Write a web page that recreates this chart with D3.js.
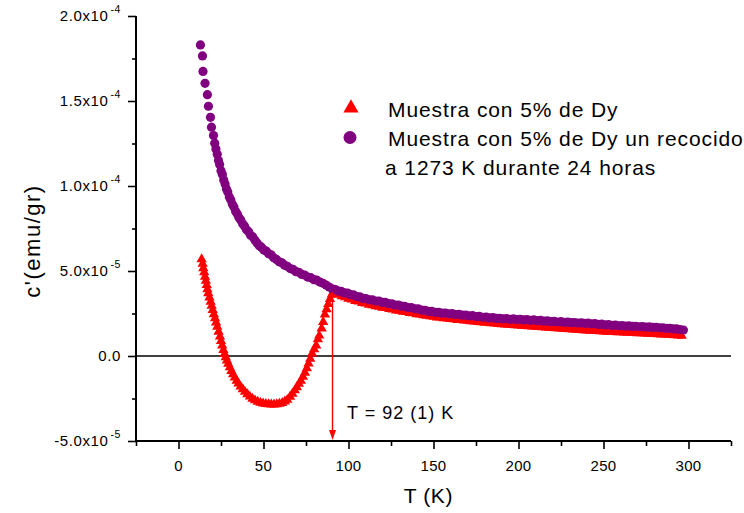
<!DOCTYPE html>
<html><head><meta charset="utf-8">
<script src="https://cdn.jsdelivr.net/npm/d3@7"></script>
<style>
body{margin:0;background:#fff}
text{font-family:"Liberation Sans",Arial,Helvetica,sans-serif;fill:#000}
</style>
</head><body>
<svg id="chart" width="744" height="513"></svg>
<script>
// ---- data (susceptibility values in units of 1e-5 emu/gr) ----
const purpleT = [12.9,14.1,14.4,15.6,17.0,17.6,18.8,19.4,20.6,21.3,22.0,22.8,23.5,24.2,25.0,25.8,26.6,27.4,28.2,29.0,29.9,30.8,31.7,32.6,33.6,34.6,35.6,36.6,37.7,38.8,40.0,41.2,42.4,43.6,44.9,46.2,47.5,48.8,50.2,51.6,53.0,54.5,56.0,57.6,59.2,60.8,62.4,64.0,65.7,67.4,69.1,70.8,72.5,74.2,76.0,77.8,79.6,81.4,83.2,85.0,86.8,88.6,90.4,92.2,94.0,95.8,97.6,99.4,101.2,103.0,104.8,106.6,108.4,110.3,112.2,114.1,116.0,117.9,119.8,121.7,123.6,125.5,127.4,129.3,131.2,133.1,135.0,137,139,141,143,145,147,149,151,153,155,157,159,161,163,165,167,169,171,173,175,177,179,181,183,185,187,189,191,193,195,197,199,201,203,205,207,209,211,213,215,217,219,221,223,225,227,229,231,233,235,237,239,241,243,245,247,249,251,253,255,257,259,261,263,265,267,269,271,273,275,277,279,281,283,285,287,289,291,293,295,297];
const purpleChi = [18.30,17.65,16.74,16.04,15.37,14.69,14.04,13.46,12.97,12.52,12.18,11.87,11.50,11.27,10.90,10.67,10.36,10.12,9.83,9.64,9.36,9.18,8.93,8.76,8.50,8.35,8.13,8.00,7.78,7.64,7.43,7.31,7.11,7.01,6.82,6.65,6.48,6.40,6.24,6.17,6.02,5.95,5.78,5.68,5.54,5.48,5.34,5.28,5.14,5.09,4.96,4.92,4.80,4.76,4.64,4.61,4.49,4.46,4.35,4.28,4.17,4.06,3.95,3.91,3.82,3.80,3.71,3.70,3.61,3.59,3.50,3.48,3.39,3.38,3.31,3.30,3.23,3.23,3.16,3.15,3.08,3.07,3.00,3.00,2.93,2.92,2.85,2.85,2.78,2.77,2.70,2.69,2.62,2.62,2.57,2.57,2.52,2.53,2.48,2.49,2.44,2.45,2.40,2.41,2.36,2.37,2.32,2.33,2.28,2.29,2.24,2.26,2.21,2.22,2.18,2.20,2.16,2.18,2.14,2.16,2.12,2.14,2.10,2.12,2.08,2.09,2.05,2.07,2.02,2.04,2.00,2.02,1.98,1.99,1.96,1.97,1.94,1.95,1.92,1.93,1.89,1.90,1.86,1.87,1.83,1.84,1.80,1.82,1.78,1.79,1.76,1.77,1.74,1.75,1.72,1.73,1.70,1.71,1.68,1.69,1.66,1.66,1.63,1.63,1.60,1.59,1.56,1.53];

const redT = [13.6,14.2,14.6,15.1,15.6,16.1,16.6,17.0,17.5,18.2,18.9,19.5,20.1,20.8,21.5,22.1,22.8,23.6,24.4,25.0,25.7,26.4,27.1,27.8,28.5,29.3,30.2,31.1,32.1,33.1,34.2,35.3,36.5,37.8,39.1,40.5,42.0,43.5,45.0,46.6,48.2,49.8,51.4,53.0,54.6,56.2,57.8,59.4,61.0,62.6,64.0,65.6,67.0,68.4,69.6,70.8,72.0,73.2,74.4,75.5,76.5,77.5,78.6,79.8,81.0,82.0,82.8,84.2,85.1,86.1,87.1,88.1,89.1,90.2,91.2,92.2,94,96,98,100,102,104,106,108,110,112,114,116,118,120,122,124,126,128,130,132,134,136,138,140,142,144,146,148,150,152,154,156,158,160,162,164,166,168,170,172,174,176,178,180,182,184,186,188,190,192,194,196,198,200,202,204,206,208,210,212,214,216,218,220,222,224,226,228,230,232,234,236,238,240,242,244,246,248,250,252,254,256,258,260,262,264,266,268,270,272,274,276,278,280,282,284,286,288,290,292,294,296];
const redChi = [5.69,5.42,5.16,4.92,4.66,4.42,4.18,3.93,3.69,3.44,3.19,2.95,2.71,2.46,2.22,1.97,1.72,1.43,1.14,0.88,0.62,0.35,0.12,-0.07,-0.26,-0.46,-0.67,-0.88,-1.07,-1.26,-1.45,-1.62,-1.80,-1.96,-2.11,-2.25,-2.39,-2.51,-2.61,-2.69,-2.75,-2.79,-2.82,-2.84,-2.85,-2.85,-2.84,-2.81,-2.76,-2.68,-2.58,-2.40,-2.22,-2.02,-1.84,-1.64,-1.45,-1.22,-0.98,-0.72,-0.45,-0.16,0.14,0.40,0.62,0.98,1.20,1.62,2.00,2.44,2.75,3.05,3.35,3.62,3.80,3.86,3.62,3.51,3.45,3.37,3.32,3.24,3.20,3.12,3.08,3.02,2.99,2.93,2.90,2.84,2.82,2.76,2.74,2.68,2.66,2.60,2.58,2.53,2.51,2.46,2.44,2.39,2.37,2.33,2.31,2.27,2.26,2.22,2.21,2.17,2.16,2.12,2.11,2.08,2.07,2.04,2.03,2.00,1.99,1.96,1.95,1.92,1.91,1.88,1.87,1.85,1.84,1.82,1.81,1.79,1.78,1.76,1.75,1.73,1.72,1.70,1.69,1.67,1.66,1.64,1.63,1.61,1.60,1.58,1.57,1.55,1.54,1.53,1.52,1.50,1.49,1.48,1.47,1.45,1.44,1.43,1.42,1.41,1.40,1.39,1.38,1.37,1.36,1.35,1.34,1.33,1.32,1.31,1.30,1.29,1.28,1.27,1.26,1.25,1.23,1.22,1.21,1.19];

const xMajorTicks = [0,50,100,150,200,250,300];
const xMinorTicks = [-25,25,75,125,175,225,275,325];
const yMajorTicks = [-5,0,5,10,15,20];
const yMinorTicks = [-2.5,2.5,7.5,12.5,17.5];
const yTickMantissa = ["-5.0","0.0","5.0","1.0","1.5","2.0"];
const yTickExponent = ["-5","","-5","-4","-4","-4"];
const seriesNames = ["Muestra con 5% de Dy","Muestra con 5% de Dy un recocido","a 1273 K durante 24 horas"];
const transitionT = 90.6;
const transitionLabel = "T = 92 (1) K";

// ---- layout ----
const svg = d3.select("#chart");
const x = d3.scaleLinear().domain([-25,325]).range([136,731]);
const y = d3.scaleLinear().domain([-5,20]).range([441,16]);

const red = "#ff0000", purple = "#800080";

// zero line
svg.append("line").attr("x1",x(-25)).attr("x2",x(325)).attr("y1",y(0)).attr("y2",y(0))
  .attr("stroke","#000").attr("stroke-width",1.6);

// axes
const gx = svg.append("g").attr("transform",`translate(0,${y(-5)})`)
  .call(d3.axisBottom(x).tickValues(xMajorTicks).tickSize(8).tickFormat(""));
const gxm = svg.append("g").attr("transform",`translate(0,${y(-5)})`)
  .call(d3.axisBottom(x).tickValues(xMinorTicks).tickSize(5).tickFormat(""));
const gy = svg.append("g").attr("transform",`translate(${x(-25)},0)`)
  .call(d3.axisLeft(y).tickValues(yMajorTicks).tickSize(8).tickFormat(""));
const gym = svg.append("g").attr("transform",`translate(${x(-25)},0)`)
  .call(d3.axisLeft(y).tickValues(yMinorTicks).tickSize(4).tickFormat(""));
[gx,gxm,gy,gym].forEach(g=>{
  g.select(".domain").attr("stroke","#000").attr("stroke-width",2);
  g.selectAll(".tick line").attr("stroke","#000").attr("stroke-width",1.6);
});
gxm.select(".domain").remove(); gym.select(".domain").remove();
gx.select(".domain").attr("d",`M${x(-25)},0H${x(325)}`);
gy.select(".domain").attr("d",`M0,${y(-5)}V${y(20)}`);

// x tick labels
svg.append("g").selectAll("text").data(xMajorTicks).join("text")
  .attr("x",d=>x(d)).attr("y",y(-5)+30).attr("text-anchor","middle")
  .attr("font-size",15).attr("letter-spacing",0.3).text(d=>d);

// y tick labels
const yl = svg.append("g").selectAll("text").data(yMajorTicks).join("text")
  .attr("x",121).attr("y",d=>y(d)+5).attr("text-anchor","end").attr("font-size",15).attr("letter-spacing",0.6);
yl.each(function(d,i){
  const t = d3.select(this);
  if(yTickExponent[i]===""){ t.text(yTickMantissa[i]); return; }
  t.append("tspan").text(yTickMantissa[i]+"x10");
  t.append("tspan").attr("dy",-8).attr("dx",2).attr("font-size",10.5).text(yTickExponent[i]);
});

// axis titles
svg.append("text").attr("x",x(147)).attr("y",503).attr("text-anchor","middle")
  .attr("font-size",21).attr("letter-spacing",0.6).text("T (K)");
svg.append("text").attr("transform","translate(40,241) rotate(-90)").attr("text-anchor","middle")
  .attr("font-size",22).attr("letter-spacing",1.5).text("c'(emu/gr)");

// series
const tri = d3.symbol().type(d3.symbolTriangle).size(46);
svg.append("g").selectAll("path").data(redT.map((t,i)=>[t,redChi[i]])).join("path")
  .attr("d",tri).attr("transform",d=>`translate(${x(d[0])},${y(d[1])})`).attr("fill",red);
svg.append("g").selectAll("circle").data(purpleT.map((t,i)=>[t,purpleChi[i]])).join("circle")
  .attr("cx",d=>x(d[0])).attr("cy",d=>y(d[1])).attr("r",4.6).attr("fill",purple);

// transition annotation
const xa = x(transitionT);
svg.append("line").attr("x1",xa).attr("x2",xa).attr("y1",y(3.75)).attr("y2",y(-5)-9)
  .attr("stroke",red).attr("stroke-width",1.4);
svg.append("path").attr("d",`M${xa-3.5},${y(-5)-11}L${xa+3.5},${y(-5)-11}L${xa},${y(-5)-1}Z`).attr("fill",red);
svg.append("text").attr("x",347).attr("y",419).attr("font-size",18).attr("letter-spacing",1).text(transitionLabel);

// legend
svg.append("path").attr("d",d3.symbol().type(d3.symbolTriangle).size(100)).attr("transform","translate(351,108)").attr("fill",red);
svg.append("circle").attr("cx",350).attr("cy",137.5).attr("r",6.5).attr("fill",purple);
const legendText = [[388,117],[388,146],[385,175]];
legendText.forEach((p,i)=>{
  svg.append("text").attr("x",p[0]).attr("y",p[1]).attr("font-size",21).attr("letter-spacing",0.9).text(seriesNames[i]);
});
</script>
</body></html>
